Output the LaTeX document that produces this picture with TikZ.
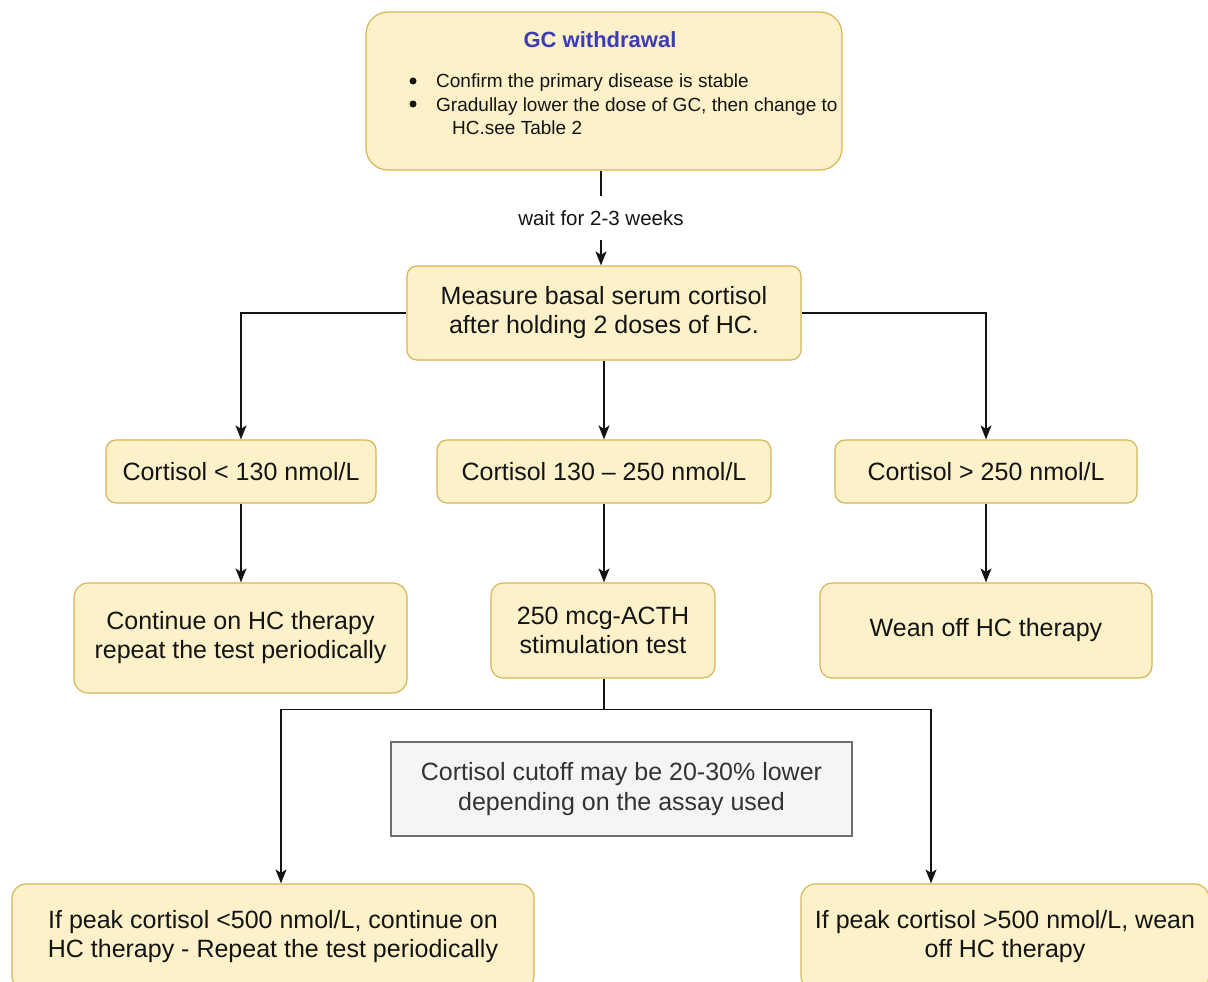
\documentclass[tikz,border=0pt]{standalone}
\usepackage{fontspec}
\setmainfont{Liberation Sans}
\usetikzlibrary{arrows.meta}
\definecolor{boxfill}{RGB}{252,241,200}
\definecolor{boxline}{RGB}{214,182,86}
\definecolor{titleblue}{RGB}{60,60,180}
\definecolor{notefill}{RGB}{245,245,245}
\definecolor{noteline}{RGB}{110,110,110}
\definecolor{notetext}{RGB}{51,51,51}
\definecolor{ink}{RGB}{20,20,20}
\tikzset{
  ybox/.style={draw=boxline, fill=boxfill, line width=1.2pt, rounded corners=10pt,
    align=center, inner sep=0pt, text=ink, font=\fontsize{25}{29}\selectfont},
  notebox/.style={draw=noteline, fill=notefill, line width=1.2pt, align=center,
    inner sep=0pt, text=notetext, font=\fontsize{25}{30}\selectfont},
  conn/.style={draw=ink, line width=1.3pt},
  arr/.style={conn, -{Stealth[length=14pt,width=11pt,inset=3.5pt]}},
  small/.style={font=\fontsize{19}{23}\selectfont, text=ink, inner sep=0pt},
  bul/.style={circle, fill=ink, inner sep=0pt, minimum size=7pt},
}
\begin{document}
\begin{tikzpicture}[x=1pt,y=-1pt]
\useasboundingbox (0,0) rectangle (1208,982);
\clip (0,0) rectangle (1208,982);
% top box
\node[ybox, rounded corners=22pt, minimum width=476pt, minimum height=158pt] (top) at (604,91) {};
\node[font=\bfseries\fontsize{22}{26}\selectfont, text=titleblue, inner sep=0pt] (title) at (600,40) {GC withdrawal};
\node[bul] (d1) at (413,81) {};
\node[bul] (d2) at (413,104) {};
\node[small, anchor=base west] (bul1) at (436,88) {Confirm the primary disease is stable};
\node[small, anchor=base west] (bul2) at (436,111) {Gradullay lower the dose of GC, then change to};
\node[small, anchor=base west] (bul3) at (452,134) {HC.see Table 2};
% measure
\node[ybox, minimum width=394pt, minimum height=94pt] (meas) at (604,313) {Measure basal serum cortisol\\after holding 2 doses of HC.};
% level 2
\node[ybox, minimum width=270pt, minimum height=63pt] (b1) at (241,471.5) {Cortisol {<} 130 nmol/L};
\node[ybox, minimum width=334pt, minimum height=63pt] (b2) at (604,471.5) {Cortisol 130 -- 250 nmol/L};
\node[ybox, minimum width=302pt, minimum height=63pt] (b3) at (986,471.5) {Cortisol {>} 250 nmol/L};
% level 3
\node[ybox, rounded corners=14pt, minimum width=333pt, minimum height=110pt] (b4) at (240.5,638) {Continue on HC therapy\\repeat the test periodically};
\node[ybox, rounded corners=12pt, minimum width=224pt, minimum height=95pt] (b5) at (603,630.5) {250 mcg-ACTH\\stimulation test};
\node[ybox, rounded corners=12pt, minimum width=332pt, minimum height=95pt] (b6) at (986,630.5) {Wean off HC therapy};
% note
\node[notebox, minimum width=461pt, minimum height=94pt] (note) at (621.5,789) {Cortisol cutoff may be 20-30\% lower\\depending on the assay used};
% bottom
\node[ybox, rounded corners=14pt, minimum width=522pt, minimum height=106pt] (b7) at (273,937) {If peak cortisol {<}500 nmol/L, continue on\\HC therapy - Repeat the test periodically};
\node[ybox, rounded corners=14pt, minimum width=408pt, minimum height=106pt] (b8) at (1005,937) {If peak cortisol {>}500 nmol/L, wean\\off HC therapy};
% connectors
\draw[arr] ([xshift=-3pt]top.south) -- node[fill=white, inner xsep=3pt, inner ysep=14pt, font=\fontsize{20.5}{24}\selectfont, text=ink] (wait) {wait for 2-3 weeks} ([xshift=-3pt]meas.north);
\draw[arr] (meas.west) -| (b1.north);
\draw[arr] (meas.east) -| (b3.north);
\draw[arr] (meas.south) -- (b2.north);
\draw[arr] (b1.south) -- (b4.north -| b1.south);
\draw[arr] (b2.south) -- (b5.north -| b2.south);
\draw[arr] (b3.south) -- (b6.north);
\coordinate (split) at ([yshift=-31pt]b2.south |- b5.south);
\draw[conn] (b5.south -| b2.south) -- (split);
\draw[arr] (split) -| ([xshift=8pt]b7.north);
\draw[arr] (split) -| ([xshift=-74pt]b8.north);
\end{tikzpicture}
\end{document}
